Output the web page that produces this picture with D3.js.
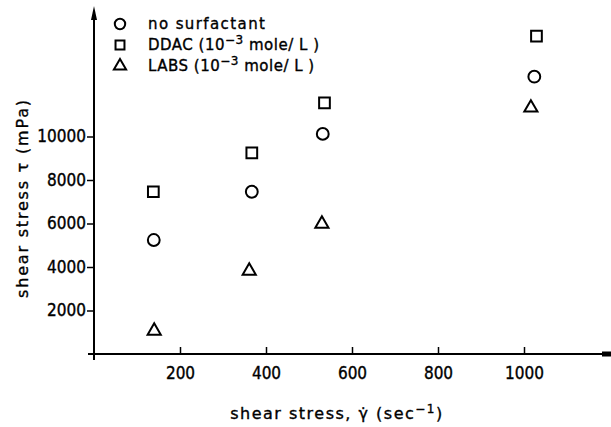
<!DOCTYPE html>
<html>
<head>
<meta charset="utf-8">
<script src="https://cdn.jsdelivr.net/npm/d3@7"></script>
<style>
  body { margin: 0; background: #fff; }
  svg text { font-family: "DejaVu Sans", sans-serif; fill: #000; stroke: #000; stroke-width: 0.35px; }
</style>
</head>
<body>
<svg id="chart" width="611" height="427"></svg>
<script>
// values
const xTicks = [200, 400, 600, 800, 1000];
const yTicks = [2000, 4000, 6000, 8000, 10000];

const noSurfX = [139, 367, 532, 1024];
const noSurfY = [5240, 7460, 10120, 12750];
const ddacX = [138, 367, 536, 1029];
const ddacY = [7460, 9250, 11550, 14620];
const labsX = [140, 361, 530, 1016];
const labsY = [1060, 3820, 5980, 11320];

const seriesNames = ["no surfactant", "DDAC", "LABS"];

const svg = d3.select("svg#chart");
const margin = { top: 10, left: 94, bottom: 73, right: 0 };
const height = +svg.attr("height");

const x = d3.scaleLinear([0, 1200], [margin.left, margin.left + 516]);
const y = d3.scaleLinear([0, 15000], [height - margin.bottom, height - margin.bottom - 326.25]);

const axisColor = "#000";

// x axis: ticks point up into the plot
const xAxis = svg
	.append("g")
	.attr("transform", `translate(0,${y(0)})`)
	.call(d3.axisBottom(x).tickValues(xTicks).tickSize(-7).tickPadding(13).tickFormat(d3.format("d")))
	.call((g) => g.select(".domain").remove());
xAxis.selectAll("line").attr("stroke-width", 1.5);
xAxis.selectAll("text").style("font-size", "17px").style("font-family", "'DejaVu Sans Condensed', sans-serif");

svg
	.append("line")
	.attr("x1", margin.left - 6)
	.attr("x2", 606)
	.attr("y1", y(0))
	.attr("y2", y(0))
	.attr("stroke", axisColor)
	.attr("stroke-width", 2);
svg
	.append("rect")
	.attr("x", 602)
	.attr("y", y(0) - 2.5)
	.attr("width", 9)
	.attr("height", 5)
	.attr("fill", axisColor);

// y axis: ticks point outward
const yAxis = svg
	.append("g")
	.attr("transform", `translate(${x(0)},0)`)
	.call(d3.axisLeft(y).tickValues(yTicks).tickSize(7).tickPadding(1).tickFormat(d3.format("d")))
	.call((g) => g.select(".domain").remove());
yAxis.selectAll("line").attr("stroke-width", 1.5);
yAxis.selectAll("text").style("font-size", "17px").style("font-family", "'DejaVu Sans Condensed', sans-serif");

svg
	.append("line")
	.attr("x1", x(0))
	.attr("x2", x(0))
	.attr("y1", y(0) + 6)
	.attr("y2", 14)
	.attr("stroke", axisColor)
	.attr("stroke-width", 2);
svg
	.append("path")
	.attr("d", `M${x(0) - 3},${20} L${x(0)},${6} L${x(0) + 3},${20} Z`)
	.attr("fill", axisColor);

// markers
const marker = {
	circle: d3.symbol(d3.symbolCircle, 110),
	square: d3.symbol(d3.symbolSquare, 115),
	triangle: d3.symbol(d3.symbolTriangle, 75),
};

const series = [
	{ xs: noSurfX, ys: noSurfY, sym: marker.circle },
	{ xs: ddacX, ys: ddacY, sym: marker.square },
	{ xs: labsX, ys: labsY, sym: marker.triangle },
];

series.forEach((s) => {
	svg
		.append("g")
		.selectAll("path")
		.data(d3.zip(s.xs, s.ys))
		.join("path")
		.attr("transform", (d) => `translate(${x(d[0])},${y(d[1])})`)
		.attr("d", s.sym())
		.attr("fill", "none")
		.attr("stroke", "#000")
		.attr("stroke-width", 2);
});

// legend
const legend = svg.append("g");
const legendSyms = [
	d3.symbol(d3.symbolCircle, 85),
	d3.symbol(d3.symbolSquare, 80),
	d3.symbol(d3.symbolTriangle, 65),
];
legendSyms.forEach((sym, i) => {
	const yy = 24 + i * 21;
	legend
		.append("path")
		.attr("transform", `translate(120,${yy})`)
		.attr("d", sym())
		.attr("fill", "none")
		.attr("stroke", "#000")
		.attr("stroke-width", 2);
	const t = legend
		.append("text")
		.attr("x", 148)
		.attr("y", yy + 5)
		.style("font-size", "15px")
		.style("letter-spacing", i === 0 ? "1.4px" : "0.5px");
	t.append("tspan").text(seriesNames[i]);
	if (i > 0) {
		t.append("tspan").text(" (10");
		t.append("tspan").attr("dy", -6).style("font-size", "12px").text("−3");
		t.append("tspan").attr("dy", 6).text(" mole/ L )");
	}
});

// axis titles
const xTitle = svg
	.append("text")
	.attr("x", 337)
	.attr("y", 419)
	.attr("text-anchor", "middle")
	.style("font-size", "16px")
	.style("letter-spacing", "1.5px");
xTitle.append("tspan").text("shear stress, γ̇ (sec");
xTitle.append("tspan").attr("dy", -6).style("font-size", "12px").text("−1");
xTitle.append("tspan").attr("dy", 6).text(")");

svg
	.append("text")
	.attr("transform", "translate(28,198) rotate(-90)")
	.attr("text-anchor", "middle")
	.style("font-size", "16px")
	.style("letter-spacing", "1.8px")
	.text("shear stress τ (mPa)");
</script>
</body>
</html>
